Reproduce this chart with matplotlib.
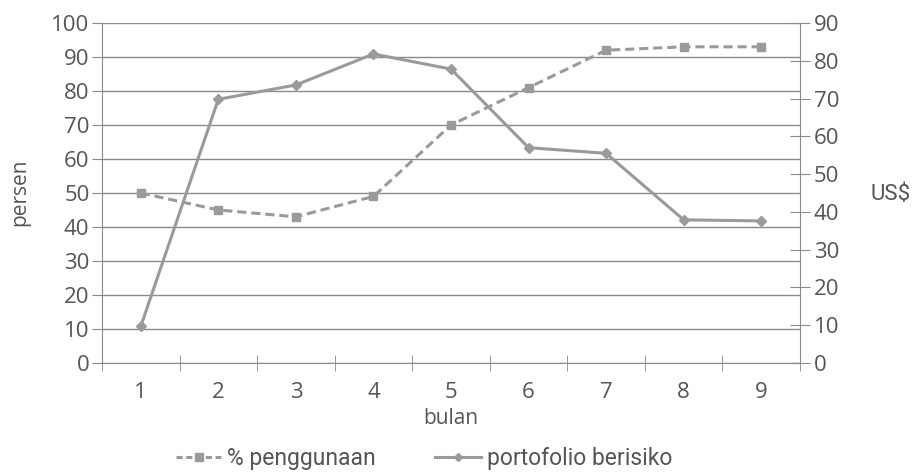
import matplotlib.pyplot as plt
from matplotlib.lines import Line2D

bulan = [1, 2, 3, 4, 5, 6, 7, 8, 9]
penggunaan = [50, 45, 43, 49, 70, 81, 92, 93, 93]          # persen
portofolio = [9.7, 69.8, 73.6, 81.8, 77.8, 57.0, 55.5, 37.9, 37.6]  # US$

line_c = '#9a9a9a'
grid_c = '#8a8a8a'
text_c = '#555555'

plt.rcParams['font.family'] = ['Open Sans', 'DejaVu Sans']

fig = plt.figure(figsize=(9.16, 4.76), dpi=100)
ax = fig.add_axes([102 / 916, 1 - 363 / 476, 698 / 916, 340 / 476])
ax2 = ax.twinx()

ax.plot(bulan, penggunaan, color=line_c, lw=2.2, ls=(0, (3, 1.6)),
        marker='s', ms=6, mfc=line_c, mec=line_c, zorder=3)
ax2.plot(bulan, portofolio, color=line_c, lw=2.2,
         marker='D', ms=5.5, mfc=line_c, mec=line_c, zorder=3)

ax.set_xlim(0.5, 9.5)
ax.set_ylim(0, 100)
ax2.set_ylim(0, 90)
ax.set_yticks(range(0, 101, 10))
ax2.set_yticks(range(0, 91, 10))
ax.set_xticks(bulan)
ax.set_xticks([x + 0.5 for x in range(0, 10)], minor=True)

ax.yaxis.grid(True, color=grid_c, lw=1)
ax.set_axisbelow(True)

for a in (ax, ax2):
    for s in a.spines.values():
        s.set_color(grid_c)
    a.spines['top'].set_visible(False)
ax.spines['right'].set_visible(False)
ax2.spines['left'].set_visible(False)
ax2.spines['bottom'].set_visible(False)

ax.tick_params(axis='x', which='major', length=0, pad=14, labelsize=16, labelcolor=text_c)
ax.tick_params(axis='x', which='minor', direction='inout', length=12, color=grid_c)
ax.tick_params(axis='y', direction='out', length=7, color=grid_c, pad=2,
               labelsize=16, labelcolor=text_c)
ax2.tick_params(axis='y', direction='inout', length=14, color=grid_c, pad=3,
                labelsize=16, labelcolor=text_c)

ax.set_xlabel('bulan', fontsize=15, color=text_c, labelpad=3)
fig.text(20 / 916, 1 - 192 / 476, 'persen', rotation=90, ha='center', va='center',
         fontsize=15, color=text_c)
fig.text(891 / 916, 1 - 195 / 476, 'US$', ha='center', va='center',
         fontsize=16, color=text_c, family=['Roboto', 'DejaVu Sans'])

handles = [
    Line2D([], [], color=line_c, lw=2.2, ls=(0, (2, 1.2)), marker='s', ms=6),
    Line2D([], [], color=line_c, lw=2.2, marker='D', ms=4),
]
fig.legend(handles, ['% penggunaan', 'portofolio berisiko'], loc='center',
           bbox_to_anchor=(424 / 916, 1 - 459 / 476), ncol=2, frameon=False,
           handlelength=2.0, handletextpad=0.25, columnspacing=2.6,
           prop={'family': ['Roboto', 'DejaVu Sans'], 'size': 16.5}, labelcolor=text_c)

fig.savefig('out.png', dpi=100)
